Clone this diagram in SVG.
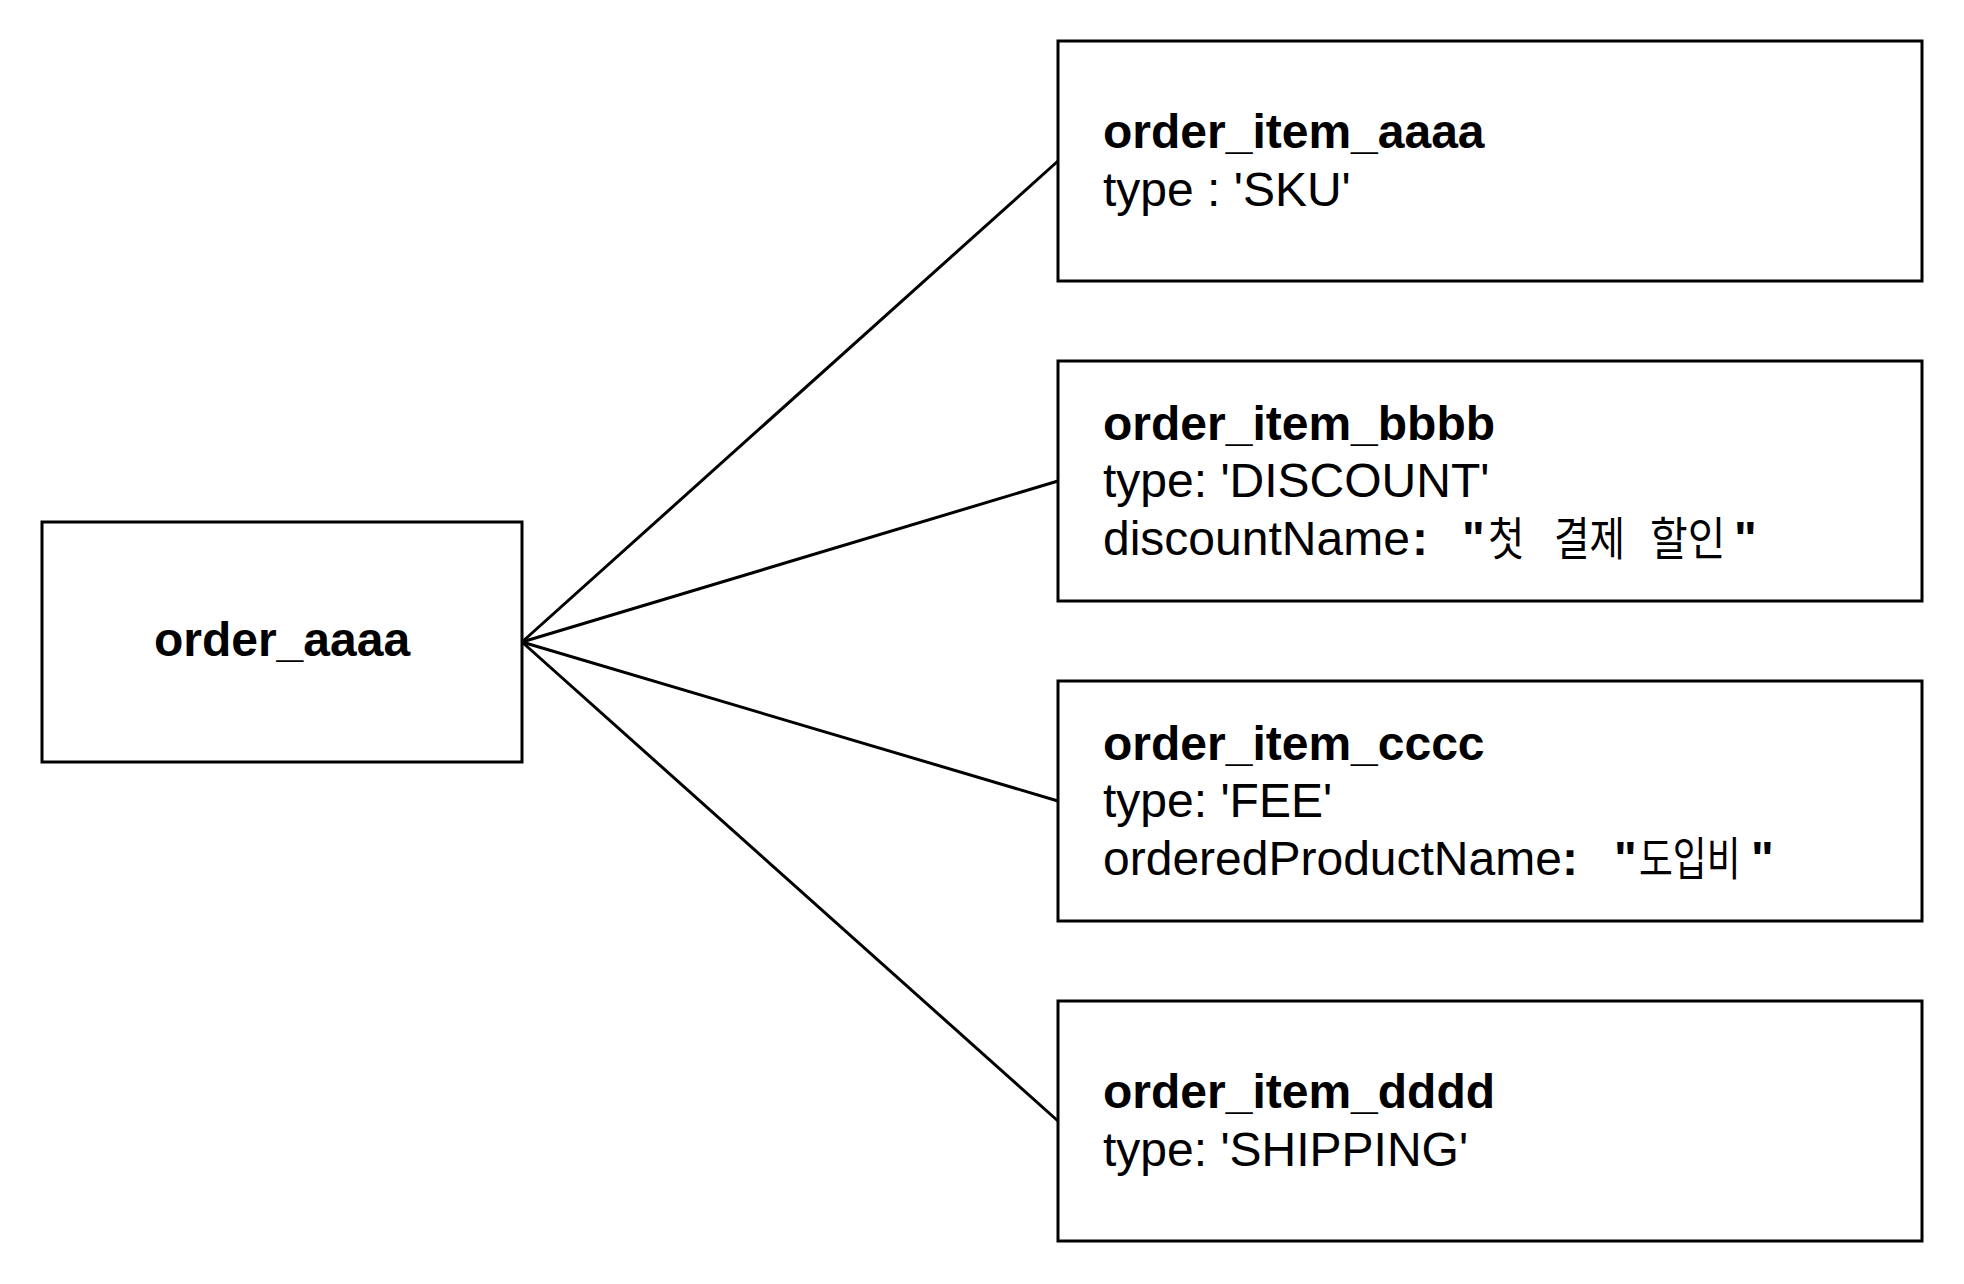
<svg xmlns="http://www.w3.org/2000/svg" width="1964" height="1284" viewBox="0 0 1964 1284">
<style>
.box{fill:#fff;stroke:#000;stroke-width:3}
.edge{stroke:#000;stroke-width:3;fill:none}
.t{font-family:"Liberation Sans",Arial,Helvetica,sans-serif;font-size:48px;fill:#000}
.b{font-weight:bold}
.k{font-family:"Noto Sans CJK KR","Noto Sans",sans-serif;font-size:46px;fill:#000}
</style>
<rect width="1964" height="1284" fill="#fff"/>
<g id="connectors">
<line class="edge" x1="522" y1="642" x2="1058" y2="161"/>
<line class="edge" x1="522" y1="642" x2="1058" y2="481"/>
<line class="edge" x1="522" y1="642" x2="1058" y2="801"/>
<line class="edge" x1="522" y1="642" x2="1058" y2="1121"/>
</g>
<g id="order_aaaa">
<rect class="box" x="42" y="522" width="480" height="240"/>
<text class="t b" x="282" y="656" text-anchor="middle">order_aaaa</text>
</g>
<g id="order_item_aaaa">
<rect class="box" x="1058" y="41" width="864" height="240"/>
<text class="t b" x="1103" y="148">order_item_aaaa</text>
<text class="t" x="1103" y="206">type : 'SKU'</text>
</g>
<g id="order_item_bbbb">
<rect class="box" x="1058" y="361" width="864" height="240"/>
<text class="t b" x="1103" y="440">order_item_bbbb</text>
<text class="t" x="1103" y="497">type: 'DISCOUNT'</text>
<text class="t" x="1103" y="555">discountName</text>
<text class="t b" x="1412" y="555">:</text>
<text class="t b" x="1462" y="555">"</text>
<text class="k" transform="translate(1488,555) scale(0.86,1)">첫</text>
<text class="k" transform="translate(1554,555) scale(0.84,1)">결제</text>
<text class="k" transform="translate(1650,555) scale(0.89,1)">할인</text>
<text class="t b" x="1734" y="555">"</text>
</g>
<g id="order_item_cccc">
<rect class="box" x="1058" y="681" width="864" height="240"/>
<text class="t b" x="1103" y="760">order_item_cccc</text>
<text class="t" x="1103" y="817">type: 'FEE'</text>
<text class="t" x="1103" y="875">orderedProductName</text>
<text class="t b" x="1562" y="875">:</text>
<text class="t b" x="1614" y="875">"</text>
<text class="k" transform="translate(1639,875) scale(0.8,1)">도입비</text>
<text class="t b" x="1751" y="875">"</text>
</g>
<g id="order_item_dddd">
<rect class="box" x="1058" y="1001" width="864" height="240"/>
<text class="t b" x="1103" y="1108">order_item_dddd</text>
<text class="t" x="1103" y="1166">type: 'SHIPPING'</text>
</g>
</svg>
